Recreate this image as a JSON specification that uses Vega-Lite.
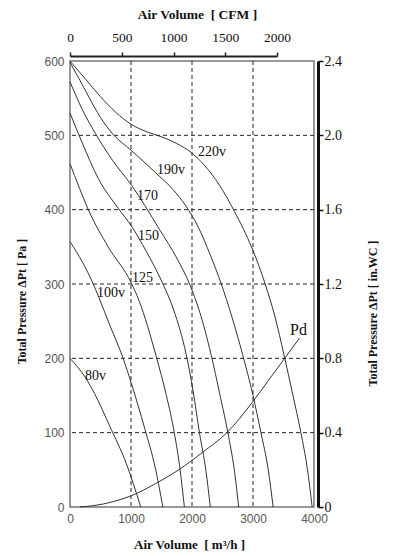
{
  "$schema": "https://vega.github.io/schema/vega-lite/v6.json",
  "width": 244,
  "height": 446,
  "autosize": {"type": "none"},
  "padding": {"left": 70, "top": 61, "right": 80, "bottom": 49},
  "background": "white",
  "config": {
    "view": {"stroke": "#777", "strokeWidth": 1.5},
    "axis": {"grid": false, "labelFlush": false, "labelOverlap": false}
  },
  "datasets": {
    "curves": [
      {"s": "220v", "q": 0, "p": 600}, {"s": "220v", "q": 250, "p": 576}, {"s": "220v", "q": 500, "p": 552}, {"s": "220v", "q": 750, "p": 531}, {"s": "220v", "q": 1000, "p": 515}, {"s": "220v", "q": 1250, "p": 505}, {"s": "220v", "q": 1500, "p": 498}, {"s": "220v", "q": 1750, "p": 489}, {"s": "220v", "q": 2000, "p": 476}, {"s": "220v", "q": 2200, "p": 460}, {"s": "220v", "q": 2450, "p": 433}, {"s": "220v", "q": 2700, "p": 397}, {"s": "220v", "q": 2990, "p": 347}, {"s": "220v", "q": 3200, "p": 300}, {"s": "220v", "q": 3360, "p": 256}, {"s": "220v", "q": 3510, "p": 204}, {"s": "220v", "q": 3650, "p": 152}, {"s": "220v", "q": 3785, "p": 100}, {"s": "220v", "q": 3890, "p": 52}, {"s": "220v", "q": 3970, "p": 0},
      {"s": "190v", "q": 0, "p": 598}, {"s": "190v", "q": 150, "p": 576}, {"s": "190v", "q": 300, "p": 553}, {"s": "190v", "q": 500, "p": 524}, {"s": "190v", "q": 700, "p": 502}, {"s": "190v", "q": 1000, "p": 480}, {"s": "190v", "q": 1400, "p": 450}, {"s": "190v", "q": 1700, "p": 426}, {"s": "190v", "q": 1900, "p": 405}, {"s": "190v", "q": 2100, "p": 377}, {"s": "190v", "q": 2300, "p": 339}, {"s": "190v", "q": 2480, "p": 300}, {"s": "190v", "q": 2650, "p": 257}, {"s": "190v", "q": 2830, "p": 205}, {"s": "190v", "q": 3000, "p": 150}, {"s": "190v", "q": 3130, "p": 100}, {"s": "190v", "q": 3250, "p": 50}, {"s": "190v", "q": 3330, "p": 0},
      {"s": "170", "q": 0, "p": 572}, {"s": "170", "q": 200, "p": 535}, {"s": "170", "q": 420, "p": 502}, {"s": "170", "q": 700, "p": 466}, {"s": "170", "q": 1007, "p": 433}, {"s": "170", "q": 1224, "p": 406}, {"s": "170", "q": 1470, "p": 373}, {"s": "170", "q": 1750, "p": 335}, {"s": "170", "q": 1960, "p": 300}, {"s": "170", "q": 2120, "p": 264}, {"s": "170", "q": 2313, "p": 205}, {"s": "170", "q": 2460, "p": 150}, {"s": "170", "q": 2600, "p": 95}, {"s": "170", "q": 2700, "p": 46}, {"s": "170", "q": 2765, "p": 0},
      {"s": "150", "q": 0, "p": 530}, {"s": "150", "q": 200, "p": 490}, {"s": "150", "q": 463, "p": 442}, {"s": "150", "q": 789, "p": 402}, {"s": "150", "q": 1007, "p": 378}, {"s": "150", "q": 1250, "p": 344}, {"s": "150", "q": 1524, "p": 300}, {"s": "150", "q": 1700, "p": 265}, {"s": "150", "q": 1905, "p": 205}, {"s": "150", "q": 2020, "p": 155}, {"s": "150", "q": 2122, "p": 100}, {"s": "150", "q": 2230, "p": 48}, {"s": "150", "q": 2300, "p": 0},
      {"s": "125", "q": 0, "p": 462}, {"s": "125", "q": 150, "p": 430}, {"s": "125", "q": 300, "p": 400}, {"s": "125", "q": 626, "p": 350}, {"s": "125", "q": 1007, "p": 301}, {"s": "125", "q": 1130, "p": 278}, {"s": "125", "q": 1415, "p": 202}, {"s": "125", "q": 1580, "p": 150}, {"s": "125", "q": 1710, "p": 100}, {"s": "125", "q": 1805, "p": 50}, {"s": "125", "q": 1875, "p": 0},
      {"s": "100v", "q": 0, "p": 357}, {"s": "100v", "q": 200, "p": 330}, {"s": "100v", "q": 381, "p": 300}, {"s": "100v", "q": 463, "p": 284}, {"s": "100v", "q": 650, "p": 245}, {"s": "100v", "q": 871, "p": 200}, {"s": "100v", "q": 1007, "p": 166}, {"s": "100v", "q": 1224, "p": 106}, {"s": "100v", "q": 1400, "p": 52}, {"s": "100v", "q": 1522, "p": 0},
      {"s": "80v", "q": 0, "p": 200}, {"s": "80v", "q": 245, "p": 175}, {"s": "80v", "q": 400, "p": 153}, {"s": "80v", "q": 650, "p": 109}, {"s": "80v", "q": 925, "p": 58}, {"s": "80v", "q": 1160, "p": 0},
      {"s": "Pd", "q": 160, "p": 0}, {"s": "Pd", "q": 400, "p": 2}, {"s": "Pd", "q": 700, "p": 7}, {"s": "Pd", "q": 1000, "p": 15}, {"s": "Pd", "q": 1415, "p": 32}, {"s": "Pd", "q": 1800, "p": 51}, {"s": "Pd", "q": 2180, "p": 74}, {"s": "Pd", "q": 2560, "p": 99}, {"s": "Pd", "q": 3000, "p": 142}, {"s": "Pd", "q": 3250, "p": 170}, {"s": "Pd", "q": 3510, "p": 199}, {"s": "Pd", "q": 3760, "p": 227}
    ],
    "labels": [
      {"t": "220v", "q": 2098, "p": 478},
      {"t": "190v", "q": 1426, "p": 453},
      {"t": "170", "q": 1098, "p": 418},
      {"t": "150", "q": 1115, "p": 364},
      {"t": "125", "q": 1016, "p": 308},
      {"t": "100v", "q": 443, "p": 288},
      {"t": "80v", "q": 246, "p": 176}
    ],
    "pdlabel": [{"t": "Pd", "q": 3607, "p": 238}],
    "gridx": [{"q": 1000}, {"q": 2000}, {"q": 3000}],
    "gridy": [{"p": 100}, {"p": 200}, {"p": 300}, {"p": 400}, {"p": 500}],
    "imperial": [{"cfm": 0, "inwc": 0}, {"cfm": 2000, "inwc": 2.4}]
  },
  "layer": [
    {
      "layer": [
        {
          "data": {"name": "gridx"},
          "mark": {"type": "rule", "strokeDash": [4, 3], "color": "#222", "strokeWidth": 1},
          "encoding": {
            "x": {
              "field": "q", "type": "quantitative",
              "scale": {"domain": [0, 4000], "nice": false, "zero": true},
              "axis": {
                "orient": "bottom", "values": [0, 1000, 2000, 3000, 4000], "format": "d",
                "domain": false, "ticks": false, "labelPadding": 6,
                "labelFont": "Liberation Sans", "labelFontSize": 12, "labelColor": "#555",
                "title": "Air Volume\u00a0 [ m³/h ]", "titleFont": "Liberation Serif", "titleFontSize": 13,
                "titleFontWeight": "bold", "titleColor": "#111", "titleX": 119, "titleY": 37,
                "titleBaseline": "middle", "titleAlign": "center"
              }
            }
          }
        },
        {
          "data": {"name": "gridy"},
          "mark": {"type": "rule", "strokeDash": [4, 3], "color": "#222", "strokeWidth": 1},
          "encoding": {
            "y": {
              "field": "p", "type": "quantitative",
              "scale": {"domain": [0, 600], "nice": false, "zero": true},
              "axis": {
                "orient": "left", "values": [0, 100, 200, 300, 400, 500, 600], "format": "d",
                "domain": false, "ticks": false, "labelPadding": 6,
                "labelFont": "Liberation Sans", "labelFontSize": 12, "labelColor": "#555",
                "title": "Total Pressure ΔPt [ Pa ]", "titleFont": "Liberation Serif", "titleFontSize": 12,
                "titleFontWeight": "bold", "titleColor": "#111", "titleX": -49, "titleY": 240,
                "titleAngle": 270, "titleBaseline": "middle", "titleAlign": "center"
              }
            }
          }
        },
        {
          "data": {"name": "curves"},
          "mark": {"type": "line", "interpolate": "monotone", "color": "#333", "strokeWidth": 1},
          "encoding": {
            "x": {"field": "q", "type": "quantitative", "scale": {"domain": [0, 4000], "nice": false}},
            "y": {"field": "p", "type": "quantitative", "scale": {"domain": [0, 600], "nice": false}},
            "detail": {"field": "s", "type": "nominal"}
          }
        },
        {
          "data": {"name": "labels"},
          "mark": {"type": "text", "align": "left", "baseline": "middle", "font": "Liberation Serif", "fontSize": 14, "color": "#111"},
          "encoding": {
            "x": {"field": "q", "type": "quantitative", "scale": {"domain": [0, 4000], "nice": false}},
            "y": {"field": "p", "type": "quantitative", "scale": {"domain": [0, 600], "nice": false}},
            "text": {"field": "t", "type": "nominal"}
          }
        },
        {
          "data": {"name": "pdlabel"},
          "mark": {"type": "text", "align": "left", "baseline": "middle", "font": "Liberation Serif", "fontSize": 16, "color": "#111"},
          "encoding": {
            "x": {"field": "q", "type": "quantitative", "scale": {"domain": [0, 4000], "nice": false}},
            "y": {"field": "p", "type": "quantitative", "scale": {"domain": [0, 600], "nice": false}},
            "text": {"field": "t", "type": "nominal"}
          }
        }
      ]
    },
    {
      "data": {"name": "imperial"},
      "mark": {"type": "point", "opacity": 0},
      "encoding": {
        "x": {
          "field": "cfm", "type": "quantitative",
          "scale": {"domain": [0, 2000], "range": [0, 207], "nice": false},
          "axis": {
            "orient": "top", "values": [0, 500, 1000, 1500, 2000], "format": "d", "offset": 5,
            "domainColor": "#222", "domainWidth": 2, "tickColor": "#222", "tickSize": 4, "tickWidth": 1.5,
            "labelFont": "Liberation Serif", "labelFontSize": 13.5, "labelColor": "#111", "labelPadding": 8,
            "title": "Air Volume\u00a0 [ CFM ]", "titleFont": "Liberation Serif", "titleFontSize": 13.5,
            "titleFontWeight": "bold", "titleColor": "#111", "titleX": 127, "titleY": -42,
            "titleBaseline": "middle", "titleAlign": "center"
          }
        },
        "y": {
          "field": "inwc", "type": "quantitative",
          "scale": {"domain": [0, 2.4], "nice": false},
          "axis": {
            "orient": "right", "values": [0, 0.4, 0.8, 1.2, 1.6, 2.0, 2.4], "offset": 4,
            "labelExpr": "datum.value == 0 ? '0' : format(datum.value, '.1f')",
            "domainColor": "#111", "domainWidth": 3, "tickColor": "#111", "tickSize": 5, "tickWidth": 1.5,
            "labelFont": "Liberation Serif", "labelFontSize": 14, "labelColor": "#111", "labelPadding": 1,
            "title": "Total Pressure ΔPt [ in.WC ]", "titleFont": "Liberation Serif", "titleFontSize": 12,
            "titleFontWeight": "bold", "titleColor": "#111", "titleX": 54, "titleY": 252,
            "titleAngle": 270, "titleBaseline": "middle", "titleAlign": "center"
          }
        }
      }
    }
  ],
  "resolve": {"scale": {"x": "independent", "y": "independent"}}
}
